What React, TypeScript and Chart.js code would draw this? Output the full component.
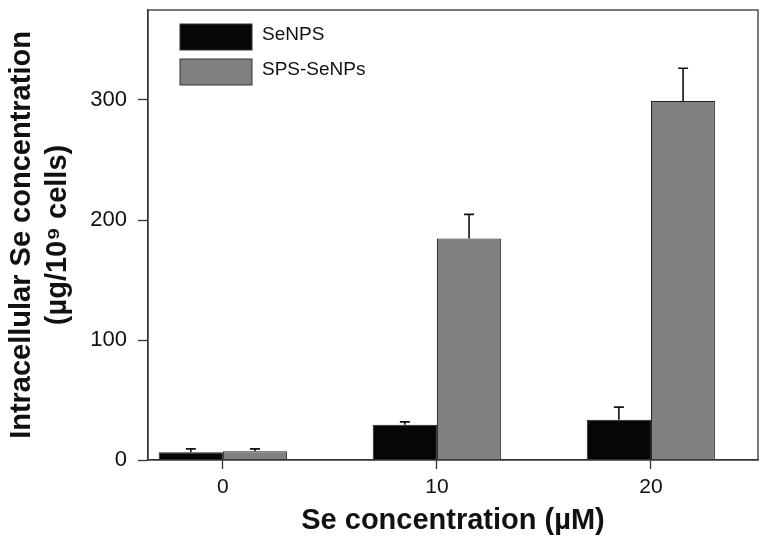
import React, { useEffect, useRef } from "react";
import { Chart, registerables } from "chart.js";

Chart.register(...registerables);

const concentrations = [0, 10, 20];
const xTickValues = [0, 10, 20];
const yTickValues = [0, 100, 200, 300];
const senpsValues = [6.5, 29.4, 33.6];
const senpsErrors = [2.8, 2.4, 10.5];
const spsValues = [7.3, 184.6, 299.2];
const spsErrors = [2.0, 20.1, 27.3];
const seriesLabels = ["SeNPS", "SPS-SeNPs"];

const FONT = "'Liberation Sans', Arial, Helvetica, sans-serif";

const errorBarPlugin = {
  id: "errorBars",
  afterDatasetsDraw(chart: any) {
    const ctx = chart.ctx;
    const yScale = chart.scales.y;
    chart.data.datasets.forEach((ds: any, di: number) => {
      const meta = chart.getDatasetMeta(di);
      const errs: number[] = ds.errors || [];
      meta.data.forEach((el: any, i: number) => {
        const v = ds.data[i].y;
        const e = errs[i] || 0;
        const yTop = yScale.getPixelForValue(v + e);
        const yBase = yScale.getPixelForValue(v);
        ctx.save();
        ctx.strokeStyle = "#111";
        ctx.lineWidth = 1.6;
        ctx.beginPath();
        ctx.moveTo(el.x, yBase);
        ctx.lineTo(el.x, yTop);
        ctx.moveTo(el.x - 5, yTop);
        ctx.lineTo(el.x + 5, yTop);
        ctx.stroke();
        ctx.restore();
      });
    });
  },
};

const framePlugin = {
  id: "frame",
  afterDraw(chart: any) {
    const { ctx, chartArea } = chart;
    ctx.save();
    ctx.strokeStyle = "#333";
    ctx.lineWidth = 1.3;
    ctx.strokeRect(chartArea.left, chartArea.top, chartArea.right - chartArea.left, chartArea.bottom - chartArea.top);
    ctx.restore();
  },
};

const legendPlugin = {
  id: "insideLegend",
  afterDraw(chart: any) {
    const { ctx, chartArea } = chart;
    ctx.save();
    chart.data.datasets.forEach((ds: any, i: number) => {
      const x = chartArea.left + 32;
      const y = chartArea.top + 14 + i * 35;
      ctx.fillStyle = ds.backgroundColor;
      ctx.fillRect(x, y, 72, 26);
      ctx.strokeStyle = "#333";
      ctx.lineWidth = 1;
      ctx.strokeRect(x, y, 72, 26);
      ctx.fillStyle = "#111";
      ctx.font = `19px ${FONT}`;
      ctx.textBaseline = "middle";
      ctx.textAlign = "left";
      ctx.fillText(ds.label, x + 82, y + 11);
    });
    ctx.restore();
  },
};

export default function App() {
  const canvasRef = useRef<HTMLCanvasElement | null>(null);

  useEffect(() => {
    if (!canvasRef.current) return;
    const chart = new Chart(canvasRef.current, {
      type: "bar",
      data: {
        datasets: [
          {
            label: seriesLabels[0],
            data: concentrations.map((c, i) => ({ x: c, y: senpsValues[i] })),
            errors: senpsErrors,
            backgroundColor: "#060606",
            borderColor: "#222",
            borderWidth: 1,
            categoryPercentage: 0.6,
            barPercentage: 1.0,
          } as any,
          {
            label: seriesLabels[1],
            data: concentrations.map((c, i) => ({ x: c, y: spsValues[i] })),
            errors: spsErrors,
            backgroundColor: "#808080",
            borderColor: "#222",
            borderWidth: 1,
            categoryPercentage: 0.6,
            barPercentage: 1.0,
          } as any,
        ],
      },
      options: {
        animation: false,
        responsive: false,
        maintainAspectRatio: false,
        layout: { padding: { left: 0, right: 12, top: 10, bottom: 0 } },
        plugins: {
          legend: { display: false },
          tooltip: { enabled: false },
        },
        scales: {
          x: {
            type: "linear",
            min: -3.5,
            max: 25,
            offset: false,
            afterBuildTicks: (scale: any) => {
              scale.ticks = xTickValues.map((v) => ({ value: v }));
            },
            afterFit: (scale: any) => {
              scale.height = 88;
              scale.paddingLeft = 0;
              scale.paddingRight = 0;
            },
            grid: {
              display: true,
              drawOnChartArea: false,
              drawTicks: true,
              tickLength: 9,
              tickColor: "#333",
              tickWidth: 1.3,
              offset: false,
            },
            border: { display: true, color: "#333", width: 1.3 },
            ticks: {
              color: "#111",
              font: { family: FONT, size: 21 },
              padding: 6,
              maxRotation: 0,
              autoSkip: false,
            },
            title: {
              display: true,
              text: "Se concentration (µM)",
              color: "#111",
              font: { family: FONT, size: 29, weight: "bold" },
              padding: { top: 0, bottom: 10 },
            },
          },
          y: {
            type: "linear",
            min: 0,
            max: 375,
            afterBuildTicks: (scale: any) => {
              scale.ticks = yTickValues.map((v) => ({ value: v }));
            },
            afterFit: (scale: any) => {
              scale.width = 148;
              scale.paddingTop = 0;
              scale.paddingBottom = 0;
            },
            grid: {
              display: true,
              drawOnChartArea: false,
              drawTicks: true,
              tickLength: 10,
              tickColor: "#333",
              tickWidth: 1.3,
            },
            border: { display: true, color: "#333", width: 1.3 },
            ticks: {
              color: "#111",
              font: { family: FONT, size: 22 },
              padding: 11,
            },
            title: {
              display: true,
              text: ["Intracellular Se concentration", "(µg/10⁹ cells)"],
              color: "#111",
              font: { family: FONT, size: 29, weight: "bold", lineHeight: 1.24 },
              padding: { top: 4, bottom: 0 },
            },
          },
        },
      },
      plugins: [errorBarPlugin, framePlugin, legendPlugin],
    } as any);
    return () => chart.destroy();
  }, []);

  return (
    <div style={{ position: "fixed", left: 0, top: 0, width: 770, height: 548, background: "#fff" }}>
      <canvas ref={canvasRef} width={770} height={548} style={{ display: "block", width: 770, height: 548 }} />
    </div>
  );
}
